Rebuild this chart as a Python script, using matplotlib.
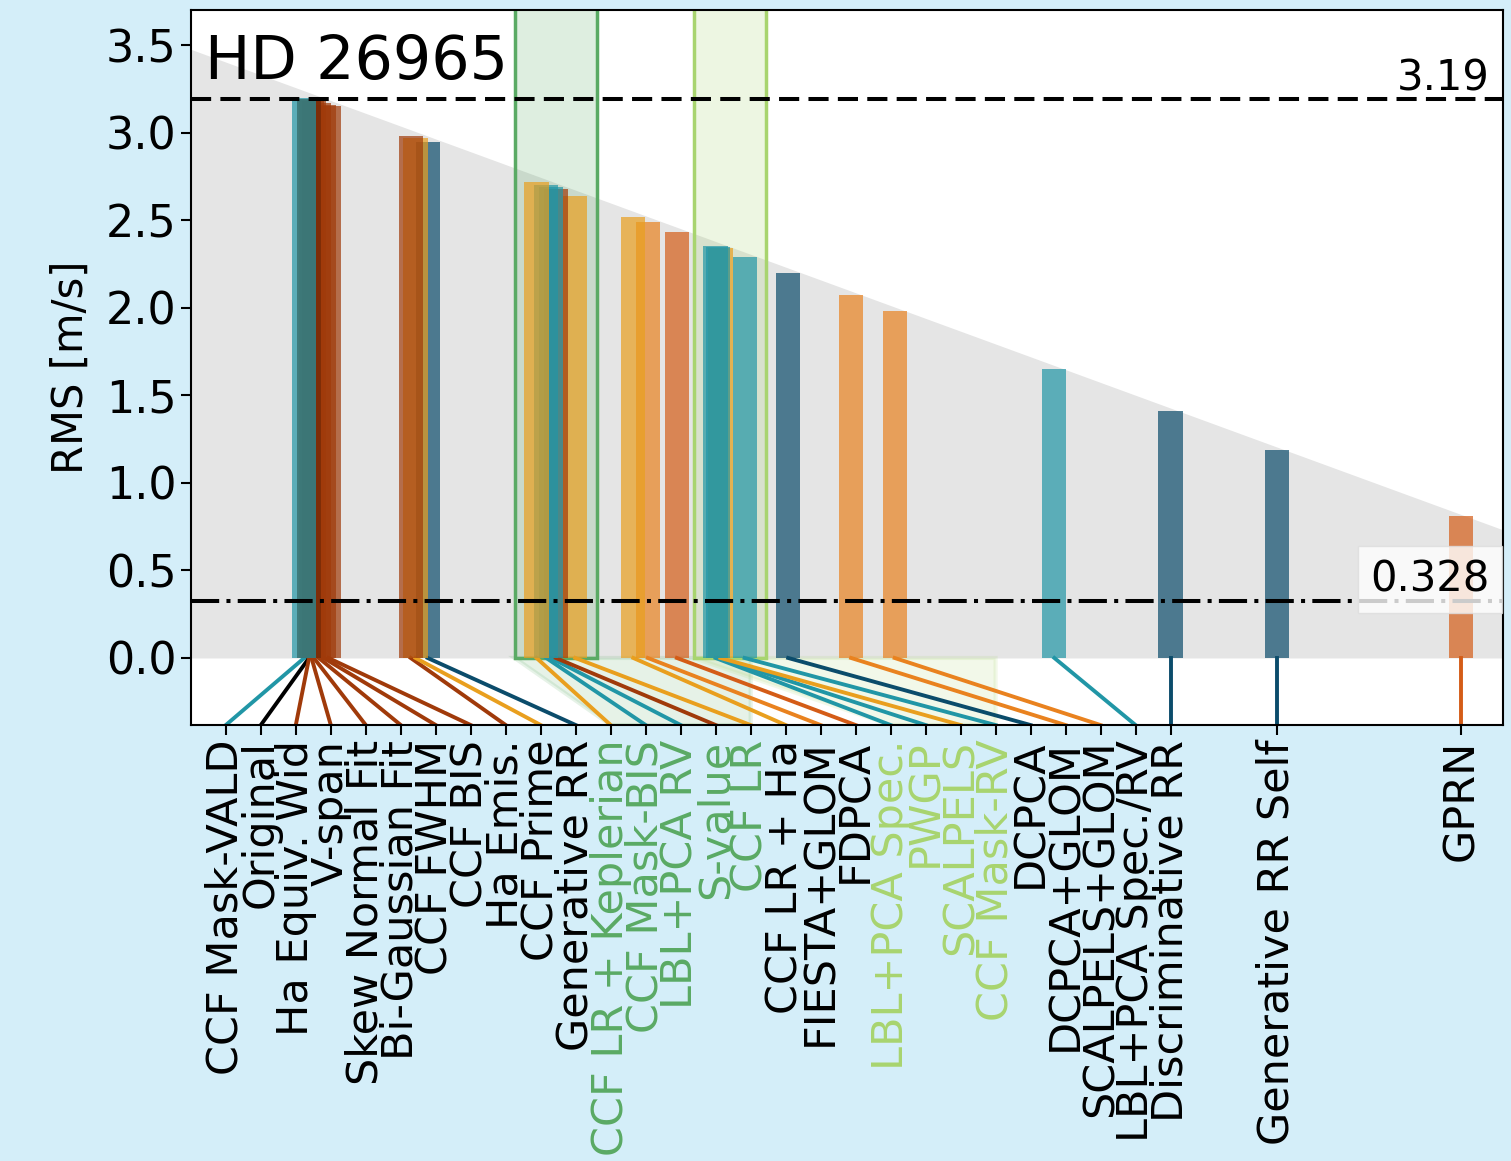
"""
RMS of the residual RVs for HD 26965, one bar per decorrelation method.

Bars sit at x = RMS (the grey wedge follows y = x), and each bar is tied to
its name under the axis by a thin line. Green boxes group related methods.
"""

import numpy as np
import matplotlib.pyplot as plt
from matplotlib.patches import Rectangle

# ---- data (label order, left to right) ----
methods = [
    "CCF Mask-VALD", "Original", "Ha Equiv. Wid", "V-span", "Skew Normal Fit",
    "Bi-Gaussian Fit", "CCF FWHM", "CCF BIS", "Ha Emis.", "CCF Prime",
    "Generative RR", "CCF LR + Keplerian", "CCF Mask-BIS", "LBL+PCA RV",
    "S-value", "CCF LR", "CCF LR + Ha", "FIESTA+GLOM", "FDPCA",
    "LBL+PCA Spec.", "PWGP", "SCALPELS", "CCF Mask-RV", "DCPCA",
    "DCPCA+GLOM", "SCALPELS+GLOM", "LBL+PCA Spec./RV", "Discriminative RR",
    "Generative RR Self", "GPRN",
]
rms = [
    3.20, 3.19, 3.19, 3.185, 3.18,
    3.17, 3.16, 3.15, 2.98, 2.97,
    2.945, 2.72, 2.70, 2.69,
    2.68, 2.64, 2.52, 2.49, 2.43,
    2.35, 2.345, 2.34, 2.29, 2.20,
    2.07, 1.98, 1.65, 1.41,
    1.19, 0.81,
]
families = [
    "teal", "black", "brown", "brown", "brown",
    "brown", "brown", "brown", "brown", "yellow",
    "navy", "yellow", "teal", "teal",
    "brown", "yellow", "yellow", "orange", "redorange",
    "teal", "teal", "yellow", "teal", "navy",
    "orange", "orange", "teal", "navy",
    "navy", "redorange",
]
groups = [
    "", "", "", "", "",
    "", "", "", "", "",
    "", "green", "green", "green",
    "green", "green", "", "", "",
    "lightgreen", "lightgreen", "lightgreen", "lightgreen", "",
    "", "", "", "",
    "", "",
]

STAR = "HD 26965"
ORIGINAL_RMS = 3.19
BEST_RMS = 0.328

FAMILY_COLORS = {
    "teal": "#2196a6",
    "navy": "#0b4c6b",
    "black": "#000000",
    "brown": "#a03a0a",
    "yellow": "#e99f1e",
    "orange": "#e9821f",
    "redorange": "#d45c17",
}
GROUP_COLORS = {"green": "#5aaa64", "lightgreen": "#a8d46f"}

plt.rcParams["font.size"] = 30

rms = np.array(rms)
fig = plt.figure(figsize=(15.11, 11.61), dpi=100, facecolor="#d4eef9")
ax = fig.add_axes([0.1264, 0.3755, 0.8683, 0.6159])
ax.set_xlim(3.434, 0.723)
ax.set_ylim(-0.383, 3.70)
ybot = ax.get_ylim()[0]

# grey wedge, just above y = x
xx = np.array(ax.get_xlim())
ax.fill_between(xx, 0, xx * 1.012, color="#e5e5e5", lw=0, zorder=0)

# label positions: evenly spread, last few sit under their own bar
n_even = 28
label_x = rms.copy()
label_x[:n_even] = np.linspace(3.362, rms[n_even - 1], n_even)

# group boxes and the fans down to their labels
for g, gc in GROUP_COLORS.items():
    idx = [i for i, gg in enumerate(groups) if gg == g]
    hi = rms[idx].max() + 0.045
    lo = rms[idx].min() - 0.045
    ax.add_patch(Rectangle((lo, 0), hi - lo, 10, facecolor=(gc, 0.2),
                           edgecolor=gc, lw=2.5, zorder=1))
    first, last = label_x[idx[0]], label_x[idx[-1]]
    ax.fill([hi, first, last, last], [0, ybot, ybot, 0],
            color=gc, alpha=0.15, lw=3, zorder=1)

# bars, smallest RMS first so the larger ones sit on top
for i in np.argsort(rms):
    ax.bar(rms[i], rms[i], width=0.05, color=FAMILY_COLORS[families[i]],
           alpha=0.7, lw=0, zorder=2)

# connector lines
for i in range(len(methods)):
    ax.plot([rms[i], label_x[i]], [0, ybot],
            color=FAMILY_COLORS[families[i]], lw=2.8, zorder=1.5)

# reference levels
ax.axhline(ORIGINAL_RMS, color="k", ls=(0, (5, 2.3)), lw=2.9, zorder=4)
ax.axhline(BEST_RMS, color="k", ls=(0, (7, 1.8, 1, 1.8)), lw=2.9, zorder=4)
ax.text(0.99, ORIGINAL_RMS, f"{ORIGINAL_RMS}", ha="right", va="bottom",
        transform=ax.get_yaxis_transform(), zorder=5)
ax.text(0.99, BEST_RMS, f"{BEST_RMS}", ha="right", va="bottom",
        transform=ax.get_yaxis_transform(), zorder=5,
        bbox=dict(boxstyle="square,pad=0.3", facecolor="white",
                  edgecolor="#dddddd", alpha=0.8))

ax.text(0.011, 0.968, STAR, fontsize=43.5, ha="left", va="top",
        transform=ax.transAxes, zorder=5)

# axes
ax.set_xticks(label_x)
ax.set_xticklabels(methods, rotation=90, fontsize=31)
for lab, g in zip(ax.get_xticklabels(), groups):
    lab.set_color(GROUP_COLORS.get(g, "black"))
ax.set_yticks(np.arange(0, 3.51, 0.5))
ax.tick_params(axis="y", labelsize=32)
ax.set_ylabel("RMS [m/s]", labelpad=10)
ax.tick_params(width=1.5, length=7)
for sp in ax.spines.values():
    sp.set_linewidth(1.5)

fig.savefig("out.png", dpi=100, facecolor=fig.get_facecolor())
